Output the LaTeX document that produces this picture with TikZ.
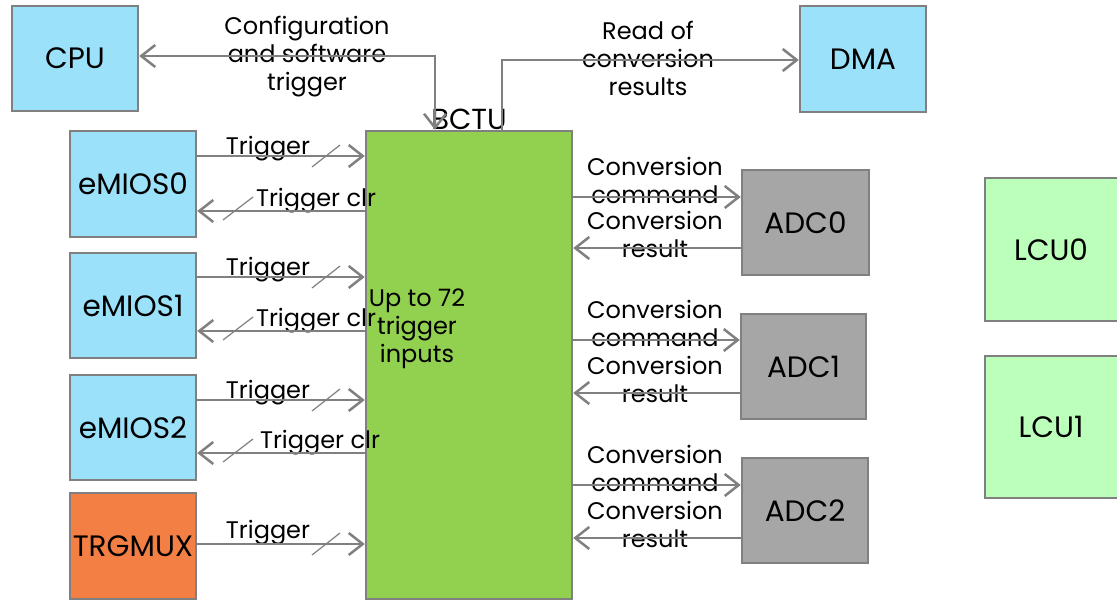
\documentclass[tikz,border=0pt]{standalone}
\usepackage{fontspec}
\setmainfont{Poppins}
\usetikzlibrary{arrows.meta}
\definecolor{blk}{HTML}{9BE1F9}
\definecolor{grn}{HTML}{92D050}
\definecolor{org}{HTML}{F47F45}
\definecolor{adcg}{HTML}{A6A6A6}
\definecolor{lcug}{HTML}{BBFFBB}
\definecolor{edge}{HTML}{808080}
\tikzset{
  box/.style={draw=edge, line width=2.5pt, rectangle, inner sep=0pt,
    font=\fontsize{29.5}{32}\selectfont},
  lbl/.style={font=\fontsize{24}{28}\selectfont, align=center, inner sep=0pt},
  conn/.style={draw=edge, line width=2.5pt},
  arr/.style={conn, -{Straight Barb[length=14pt,width=22pt,line width=2.5pt]}},
  darr/.style={conn, {Straight Barb[length=14pt,width=22pt,line width=2.5pt]}-{Straight Barb[length=14pt,width=22pt,line width=2.5pt]}},
  slash/.style={draw=edge, line width=1.2pt},
}
\begin{document}
\begin{tikzpicture}[x=1pt,y=-1pt]
\useasboundingbox (0,0) rectangle (1117,600);
\fill[white] (0,0) rectangle (1117,600);

% blocks
\node[box, fill=blk, minimum width=126pt, minimum height=105pt] (cpu) at (75,58.5) {CPU};
\node[box, fill=blk, minimum width=126pt, minimum height=106pt] (dma) at (863,59) {DMA};
\node[box, fill=grn, minimum width=206pt, minimum height=468pt] (bctu) at (469,365) {};
\node[box, fill=blk, minimum width=126pt, minimum height=106pt] (e0) at (133,184) {eMIOS0};
\node[box, fill=blk, minimum width=126pt, minimum height=105pt] (e1) at (133,305.5) {eMIOS1};
\node[box, fill=blk, minimum width=126pt, minimum height=105pt] (e2) at (133,427.5) {eMIOS2};
\node[box, fill=org, minimum width=126pt, minimum height=106pt] (trg) at (133,546) {TRGMUX};
\node[box, fill=adcg, minimum width=127pt, minimum height=105pt] (a0) at (805.5,222.5) {ADC0};
\node[box, fill=adcg, minimum width=125pt, minimum height=105pt] (a1) at (803.5,366.5) {ADC1};
\node[box, fill=adcg, minimum width=126pt, minimum height=105pt] (a2) at (805,510.5) {ADC2};
\node[box, fill=lcug, minimum width=140pt, minimum height=143pt] (l0) at (1055,249.5) {\hspace*{-8pt}LCU0};
\node[box, fill=lcug, minimum width=140pt, minimum height=142pt] (l1) at (1055,427) {\hspace*{-8pt}LCU1};

% BCTU captions
\node[lbl, font=\fontsize{29}{32}\selectfont] (bctulbl) at (469,119) {BCTU};
\node[lbl] (inputs) at (417,329) {Up to 72\\trigger\\inputs};

% signal labels (lines are drawn on top of them)
\node[lbl] (cfg) at (307,57) {Configuration\\and software\\trigger};
\node[lbl] (rd) at (648,58) {Read of\\conversion\\results};
\foreach \ty/\cy/\cx in {156/211/316, 277/331/316, 400/453/320} {
  \node[lbl] at (268,\ty-7) {Trigger};
  \node[lbl] at (\cx,\cy-10) {Trigger clr};
}
\node[lbl] (trglbl) at (268,533) {Trigger};
\foreach \cy/\ry in {197/248, 340/393, 485/538} {
  \node[lbl] at (655,\cy-17) {Conversion\\command};
  \node[lbl] at (655,\ry-14) {Conversion\\result};
}

% CPU <-> BCTU
\draw[darr] (cpu.east |- 0,56) -| (435,0 |- bctu.north);

% BCTU -> DMA
\draw[arr] (502,0 |- bctu.north) |- (dma.west |- 0,60);

% trigger lines from eMIOS / TRGMUX
\foreach \src/\ty/\cy in {e0/156/211, e1/277/331, e2/400/453} {
  \draw[arr] (\src.east |- 0,\ty) -- (bctu.west |- 0,\ty);
  \draw[slash] (312,\ty+11) -- (340,\ty-11);
  \draw[arr] (bctu.west |- 0,\cy) -- (\src.east |- 0,\cy);
  \draw[slash] (223,\cy+9) -- (253,\cy-14);
}
\draw[arr] (trg.east |- 0,544) -- (bctu.west |- 0,544);
\draw[slash] (312,555) -- (340,533);

% ADC command / result lines
\foreach \dst/\cy/\ry in {a0/197/248, a1/340/393, a2/485/538} {
  \draw[arr] (bctu.east |- 0,\cy) -- (\dst.west |- 0,\cy);
  \draw[arr] (\dst.west |- 0,\ry) -- (bctu.east |- 0,\ry);
}
\end{tikzpicture}
\end{document}
